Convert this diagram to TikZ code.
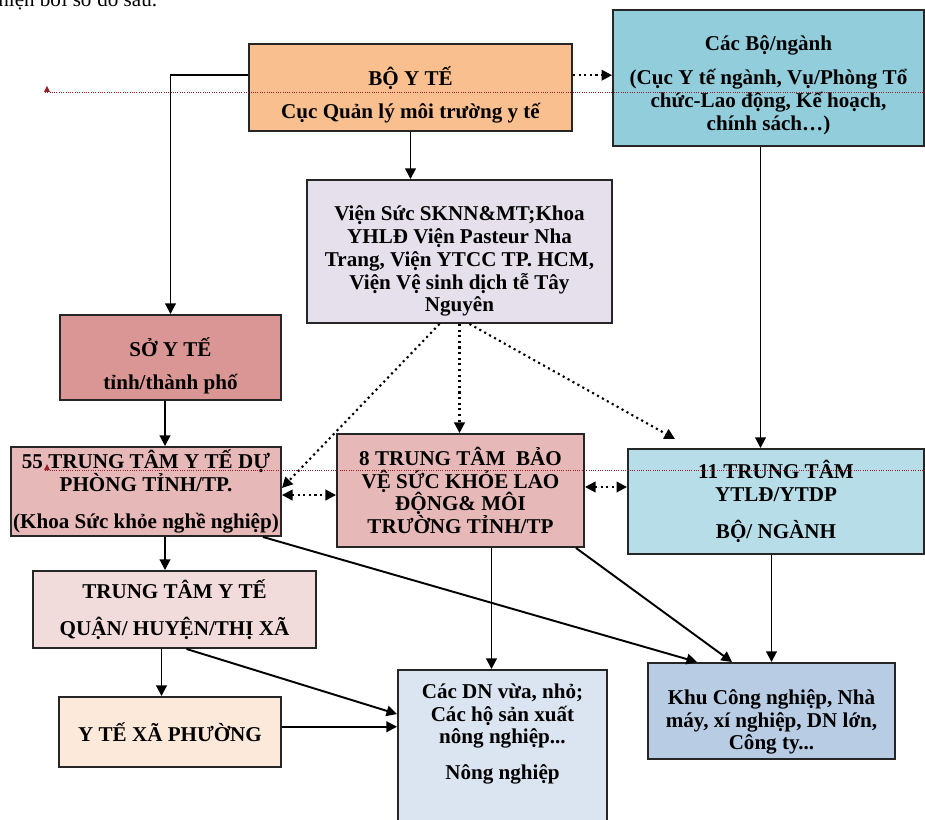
\documentclass[tikz,border=0pt]{standalone}
\usepackage{fontspec}
\setmainfont{Liberation Serif}
\usetikzlibrary{arrows.meta,calc}

\definecolor{boyteC}{RGB}{250,191,143}
\definecolor{cacboC}{RGB}{146,205,220}
\definecolor{vienC}{RGB}{229,224,236}
\definecolor{soyteC}{RGB}{217,150,148}
\definecolor{ttC}{RGB}{230,184,183}
\definecolor{tt11C}{RGB}{183,222,232}
\definecolor{ttqhC}{RGB}{242,220,219}
\definecolor{ytxaC}{RGB}{253,233,217}
\definecolor{dnC}{RGB}{219,229,241}
\definecolor{kcnC}{RGB}{184,204,228}
\definecolor{markC}{RGB}{150,30,40}

\def\lift#1{\rule{0pt}{#1}}

\begin{document}
\begin{tikzpicture}[x=0.02cm, y=-0.02cm,
  box/.style={draw=black!85, line width=1.1pt, align=center, inner sep=0pt,
    font=\fontsize{12}{13}\selectfont\bfseries},
  arr/.style={line width=1.1pt, -{Triangle[length=6pt,width=6pt]}},
  dotarr/.style={line width=1.2pt, dotted, -{Triangle[length=6pt,width=6pt]}},
  dotdbl/.style={line width=1.2pt, dotted,
    {Triangle[length=6pt,width=6pt]}-{Triangle[length=6pt,width=6pt]}},
  markline/.style={markC, line width=0.3pt, densely dotted}]
\def\px{0.02cm}
\useasboundingbox (0,0) rectangle (925,820);
\clip (0,0) rectangle (925,820);

% text above
\node[anchor=base west, inner sep=0pt, font=\fontsize{12}{14}\selectfont] (note) at (-2,7) {hiện bởi sơ đồ sau.};

% Boxes
\node[box, fill=boyteC, minimum width=323*\px, minimum height=87*\px] (boyte) at (410.5,87.5)
  {\lift{19pt}BỘ Y TẾ\\[5.5pt] Cục Quản lý môi trường y tế};
\node[box, fill=cacboC, minimum width=311*\px, minimum height=136*\px] (cacbo) at (768.5,78)
  {\lift{17pt}Các Bộ/ngành\\[6.5pt] (Cục Y tế ngành, Vụ/Phòng Tổ\\ chức-Lao động, Kế hoạch,\\ chính sách…)};
\node[box, fill=vienC, minimum width=305*\px, minimum height=143*\px] (vien) at (459.5,251.5)
  {\lift{19.5pt}Viện Sức SKNN\&MT;Khoa\\ YHLĐ Viện Pasteur Nha\\ Trang, Viện YTCC TP. HCM,\\ Viện Vệ sinh dịch tễ Tây\\ Nguyên};
\node[box, fill=soyteC, minimum width=221*\px, minimum height=85*\px] (soyte) at (170.5,357.5)
  {\lift{20pt}SỞ Y TẾ\\[6pt] tỉnh/thành phố};
\node[box, fill=ttC, minimum width=270*\px, minimum height=89*\px] (tt55) at (146,491.5)
  {55 TRUNG TÂM Y TẾ DỰ\\ PHÒNG TỈNH/TP.\\[8pt] (Khoa Sức khỏe nghề nghiệp)};
\node[box, fill=ttC, minimum width=247*\px, minimum height=113*\px] (tt8) at (460.5,490.5)
  {8 TRUNG TÂM\ \ BẢO\\ VỆ SỨC KHỎE LAO\\ ĐỘNG\& MÔI\\ TRƯỜNG TỈNH/TP};
\node[box, fill=tt11C, minimum width=296*\px, minimum height=105*\px] (tt11) at (776,501.5)
  {11 TRUNG TÂM\\ YTLĐ/YTDP\\[8.5pt] BỘ/ NGÀNH};
\node[box, fill=ttqhC, minimum width=283*\px, minimum height=77*\px] (ttqh) at (174.5,609.5)
  {TRUNG TÂM Y TẾ\\[8pt] QUẬN/ HUYỆN/THỊ XÃ};
\node[box, fill=ytxaC, minimum width=222*\px, minimum height=70*\px] (ytxa) at (170,732)
  {Y TẾ XÃ PHƯỜNG};
\node[box, fill=dnC, minimum width=209*\px, minimum height=155*\px] (dnnho) at (502.5,747.5)
  {Các DN vừa, nhỏ;\\ Các hộ sản xuất\\ nông nghiệp...\\[7.5pt] Nông nghiệp\\[5pt]\mbox{}};
\node[box, fill=kcnC, minimum width=247*\px, minimum height=96*\px] (kcn) at (771.5,711)
  {\lift{21pt}Khu Công nghiệp, Nhà\\ máy, xí nghiệp, DN lớn,\\ Công ty...};

% Connectors
\coordinate (col) at (165,0);
\draw[arr] ([yshift=7pt]boyte.west) -| (soyte);
\draw[arr] (boyte.south) -- (boyte.south |- vien.north);
\draw[dotarr] ([yshift=7pt]boyte.east) -- ([yshift=7pt]boyte.east -| cacbo.west);
\coordinate (c1) at ($(cacbo.south)+(-8,0)$);
\draw[arr] (c1) -- (c1 |- tt11.north);
\draw[dotarr] ($(vien.south)+(-20,0)$) -- ([yshift=2pt]tt55.east);
\draw[dotarr] (vien.south) -- (vien.south |- tt8.north);
\draw[dotarr] ($(vien.south)+(10,0)$) -- ($(tt11.north west)+(48,-9)$);
\draw[dotdbl] ([yshift=-2pt]tt55.east) -- ([yshift=-2pt]tt55.east -| tt8.west);
\draw[dotdbl] ([yshift=2pt]tt8.east) -- ([yshift=2pt]tt8.east -| tt11.west);
\draw[arr] (col |- soyte.south) -- (col |- tt55.north);
\draw[arr] (col |- tt55.south) -- (col |- ttqh.north);
\draw[arr] ($(tt55.south east)+(-19,0)$) -- ($(kcn.north west)+(50,0)$);
\coordinate (c2) at ($(tt8.south)+(31,0)$);
\draw[arr] (c2) -- (c2 |- dnnho.north);
\draw[arr] ($(tt8.south east)+(-9,0)$) -- ($(kcn.north west)+(85,0)$);
\draw[arr] (kcn.north |- tt11.south) -- (kcn.north);
\draw[arr] ([xshift=-2pt]col |- ttqh.south) -- ([xshift=-2pt]col |- ytxa.north);
\draw[arr] ($(ttqh.south)+(12,0)$) -- ($(dnnho.north west)+(0,45)$);
\draw[arr] ([yshift=3pt]ytxa.east) -- ([yshift=3pt]ytxa.east -| dnnho.west);

% Marks
\draw[markline] (45,92) -- (925,92);
\fill[markC] (44,92) -- (47,86) -- (50,92) -- cycle;
\draw[markline] (45,470) -- (925,470);
\fill[markC] (44,470) -- (47,464) -- (50,470) -- cycle;
\end{tikzpicture}
\end{document}
